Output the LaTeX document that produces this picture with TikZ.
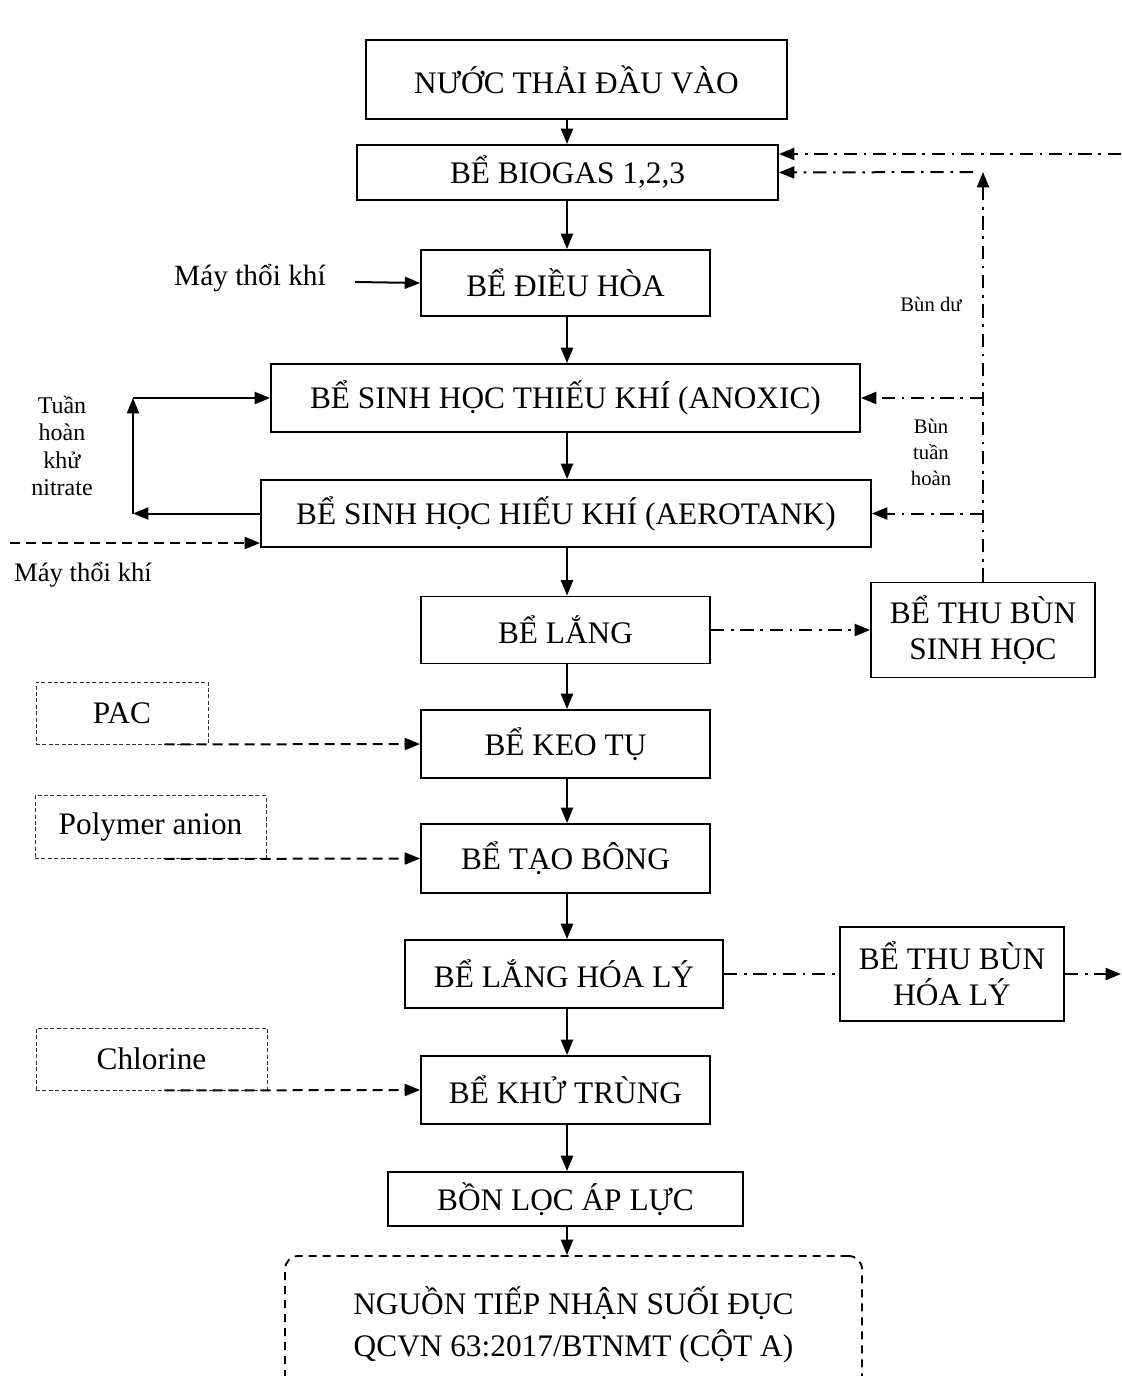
\documentclass[tikz,border=0pt]{standalone}
\usepackage{fontspec}
\setmainfont{Liberation Serif}
\usetikzlibrary{calc,arrows.meta}

\begin{document}
\begin{tikzpicture}[x=0.75pt,y=-0.75pt,box/.style={draw=black,line width=1.4pt,fill=white,align=center,inner sep=2pt,font=\fontsize{23.5pt}{27pt}\selectfont},feedbox/.style={draw=black!80,line width=0.7pt,dash pattern=on 3pt off 1.8pt,align=center,inner sep=2pt,font=\fontsize{23.5pt}{27pt}\selectfont},sinkbox/.style={box,dash pattern=on 6pt off 4.5pt,rounded corners=10pt},note/.style={align=center,inner sep=0pt,font=\fontsize{18pt}{20.6pt}\selectfont},flow/.style={draw=black,line width=1.5pt,-{Triangle[length=11.5pt,width=9pt]}},feed/.style={flow,dash pattern=on 7.5pt off 4.5pt},sludge/.style={flow,dash pattern=on 10pt off 5pt on 2pt off 5pt}]
\useasboundingbox (0,0) rectangle (1121,1376);
\coordinate (s) at (567,0);
\node[box,minimum width=315.75pt,minimum height=59.25pt] (n0) at (576.5,79.5) {NƯỚC THẢI ĐẦU VÀO};
\node[box,minimum width=315.75pt,minimum height=41.25pt] (n1) at (567.5,172.5) {BỂ BIOGAS 1,2,3};
\node[box,minimum width=216.75pt,minimum height=49.5pt] (n2) at (565.5,283) {BỂ ĐIỀU HÒA};
\node[box,minimum width=441.75pt,minimum height=51pt] (n3) at (565.5,398) {BỂ SINH HỌC THIẾU KHÍ (ANOXIC)};
\node[box,minimum width=457.5pt,minimum height=50.25pt] (n4) at (566,513.5) {BỂ SINH HỌC HIẾU KHÍ (AEROTANK)};
\node[box,minimum width=216.75pt,minimum height=50.25pt] (n5) at (565.5,630) {BỂ LẮNG};
\node[box,minimum width=168pt,minimum height=71.25pt] (n6) at (983,630) {BỂ THU BÙN\\SINH HỌC};
\node[box,minimum width=216.75pt,minimum height=51pt] (n7) at (565.5,744) {BỂ KEO TỤ};
\node[box,minimum width=216.75pt,minimum height=51.75pt] (n8) at (565.5,858.5) {BỂ TẠO BÔNG};
\node[box,minimum width=238.5pt,minimum height=51pt] (n9) at (564,974) {BỂ LẮNG HÓA LÝ};
\node[box,minimum width=168pt,minimum height=70.5pt] (n10) at (952,974) {BỂ THU BÙN\\HÓA LÝ};
\node[box,minimum width=216.75pt,minimum height=51pt] (n11) at (565.5,1090) {BỂ KHỬ TRÙNG};
\node[box,minimum width=266.25pt,minimum height=40.5pt] (n12) at (565.5,1199) {BỒN LỌC ÁP LỰC};
\node[sinkbox,minimum width=432.75pt,minimum height=103.5pt,font=\fontsize{23.5pt}{32pt}\selectfont] (n13) at (573.5,1325) {NGUỒN TIẾP NHẬN SUỐI ĐỤC\\QCVN 63:2017/BTNMT (CỘT A)};
\node[feedbox,minimum width=129pt,minimum height=46.5pt] (p0) at (122,713) {PAC};
\node[feedbox,minimum width=173.25pt,minimum height=47.25pt] (p1) at (150.5,827) {Polymer anion};
\node[feedbox,minimum width=173.25pt,minimum height=46.5pt] (p2) at (151.5,1059) {Chlorine};
\node[note,font=\fontsize{22pt}{25pt}\selectfont] (m0) at (250,278) {Máy thổi khí};
\node[note,font=\fontsize{20pt}{23pt}\selectfont] (m1) at (83,575) {Máy thổi khí};
\node[note] (t0) at (62,446) {Tuần\\hoàn\\khử\\nitrate};
\node[note,font=\fontsize{15.5pt}{19.5pt}\selectfont] (t1) at (931,304) {Bùn dư};
\node[note,font=\fontsize{15.5pt}{19.5pt}\selectfont] (t2) at (931,452) {Bùn\\tuần\\hoàn};
\coordinate (k0) at (133,398);
\coordinate (a0) at (10,543);
\coordinate (b0) at (983,172);
\coordinate (r0) at (1121,154);
\coordinate (r1) at (1121,974);
\draw[flow] (n0.south -| s) -- (n1.north -| s);
\draw[flow] (n1.south -| s) -- (n2.north -| s);
\draw[flow] (n2.south -| s) -- (n3.north -| s);
\draw[flow] (n3.south -| s) -- (n4.north -| s);
\draw[flow] (n4.south -| s) -- (n5.north -| s);
\draw[flow] (n5.south -| s) -- (n7.north -| s);
\draw[flow] (n7.south -| s) -- (n8.north -| s);
\draw[flow] (n8.south -| s) -- (n9.north -| s);
\draw[flow] (n9.south -| s) -- (n11.north -| s);
\draw[flow] (n11.south -| s) -- (n12.north -| s);
\draw[flow] (n12.south -| s) -- (n13.north -| s);
\draw[flow] ($(m0.east)+(29,4)$) -- (n2.west);
\draw[flow] (n4.west) -- (n4.west -| k0);
\draw[flow] (n4.west -| k0) -- (k0);
\draw[flow] (k0) -- (n3.west);
\draw[feed] (a0) -- (a0 -| n4.west);
\draw[feed] ($(p0.south west)+(129,0)$) -- (n7.west);
\draw[feed] ($(p1.south west)+(130,0)$) -- (n8.west);
\draw[feed] ($(p2.south west)+(129,0)$) -- (n11.west);
\draw[sludge] (n5.east) -- (n6.west);
\draw[sludge] (n6.north) -- (b0);
\draw[sludge] ($(b0)+(-10,0)$) -- (n1.east);
\draw[sludge] (r0) -- (r0 -| n1.east);
\draw[sludge] (n3.east -| b0) -- (n3.east);
\draw[sludge] (n4.east -| b0) -- (n4.east);
\draw[sludge,-] (n9.east) -- (n10.west);
\draw[sludge] (n10.east) -- (r1);
\end{tikzpicture}
\end{document}
